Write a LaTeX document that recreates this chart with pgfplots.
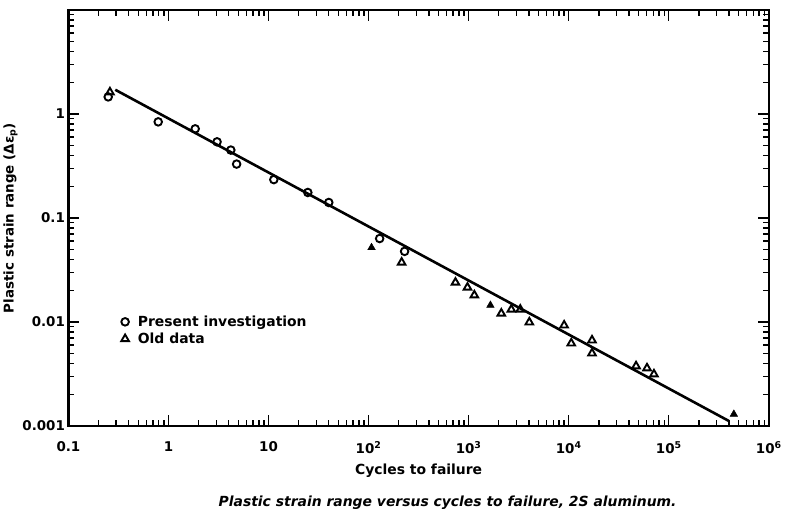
\documentclass[border=0pt]{standalone}
\usepackage{fontspec}
\setmainfont{DejaVu Sans}
\usepackage{pgfplots}
\pgfplotsset{compat=1.18}
\begin{document}
\begin{tikzpicture}
\path (0bp,0bp) rectangle (785bp,519bp);
\begin{axis}[
  at={(67bp,92bp)}, anchor=south west,
  scale only axis, width=702bp, height=417bp,
  xmode=log, ymode=log,
  xmin=0.1, xmax=1e6, ymin=0.001, ymax=10,
  xtick={0.1,1,10,100,1000,10000,100000,1000000},
  xticklabels={0.1,1,10,10\textsuperscript{2},10\textsuperscript{3},10\textsuperscript{4},10\textsuperscript{5},10\textsuperscript{6}},
  ytick={0.001,0.01,0.1,1,10},
  yticklabels={0.001,0.01,0.1,1,{}},
  xtick pos=both, ytick pos=both, tick align=inside,
  tickwidth=11bp, subtickwidth=6bp,
  every tick/.style={line width=1.4bp, black},
  axis line style={line width=2.4bp},
  tick label style={font=\bfseries\fontsize{13.5}{16}\selectfont},
  xticklabel style={yshift=-12bp},
  xlabel={Cycles to failure},
  ylabel={Plastic strain range (Δε\textsubscript{p})},
  xlabel style={font=\bfseries\fontsize{14}{16}\selectfont, yshift=-3bp},
  ylabel style={font=\bfseries\fontsize{13.5}{16}\selectfont, yshift=-2bp},
  legend style={draw=none, fill=none, at={(0.071,0.275)}, anchor=north west,
    font=\bfseries\fontsize{14}{16}\selectfont, row sep=1bp},
  legend cell align=left,
]
\addplot[only marks, mark=o, mark size=3.8bp, line width=1.9bp] coordinates {
  (0.25,1.46) (0.79,0.84) (1.85,0.72) (3.06,0.54) (4.2,0.45) (4.8,0.33)
  (11.3,0.234) (24.7,0.176) (40,0.141) (129,0.0635) (229,0.0478)
};
\addlegendentry{\hspace{7bp}Present investigation}
\addplot[only marks, mark=triangle, mark size=4.4bp, line width=1.9bp] coordinates {
  (0.26,1.62) (214,0.0374) (738,0.024) (973,0.0215) (1140,0.0181)
  (2120,0.0121) (2670,0.0132) (3280,0.0132) (4040,0.00995) (9000,0.0093)
  (10600,0.00625) (17100,0.00668) (17100,0.00501) (47100,0.00377)
  (60600,0.0036) (71100,0.00315)
};
\addlegendentry{\hspace{7bp}Old data}
\addplot[only marks, mark=triangle*, mark size=4.4bp, forget plot] coordinates {
  (107,0.052) (1650,0.0145) (447000,0.0013)
};
\addplot[no markers, line width=2.6bp, forget plot] coordinates {
  (0.294,1.71) (398000,0.00112)
};
\end{axis}
\begin{scope}[shift={(67bp,92bp)}, x=100.2857bp, y=104.25bp, line width=1.3bp]
\foreach \e in {1,...,6} {
  \draw (\e,0) -- ++(0,11bp);
  \draw (\e,4) -- ++(0,-11bp);
}
\foreach \e in {0,...,6} {
  \foreach \m in {2,...,9} {
    \draw ({\e+log10(\m)},0) -- ++(0,6bp);
    \draw ({\e+log10(\m)},4) -- ++(0,-6bp);
  }
}
\foreach \e in {1,...,3} {
  \draw (0,\e) -- ++(11bp,0);
  \draw (7,\e) -- ++(-11bp,0);
}
\foreach \e in {0,...,3} {
  \foreach \m in {2,...,9} {
    \draw (0,{\e+log10(\m)}) -- ++(6bp,0);
    \draw (7,{\e+log10(\m)}) -- ++(-6bp,0);
  }
}
\end{scope}
\node[font=\bfseries\itshape\fontsize{14}{17}\selectfont] at (447bp,15bp) {Plastic strain range versus cycles to failure, 2S aluminum.};
\end{tikzpicture}
\end{document}
